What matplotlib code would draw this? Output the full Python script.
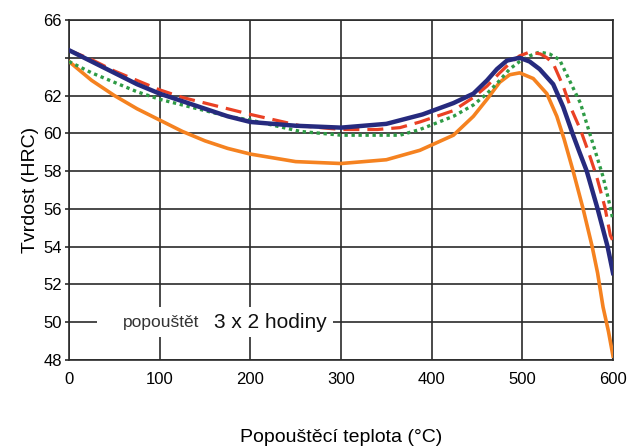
import numpy as np
import matplotlib.pyplot as plt
from matplotlib.patches import Rectangle

plt.rcParams['font.family'] = ['Liberation Sans', 'DejaVu Sans']

# temperature (°C) / hardness (HRC)
blue_x = [0, 25, 50, 75, 100, 125, 150, 175, 200, 250, 300, 350, 390, 424, 446, 461, 472, 483, 497, 508, 519, 534, 545, 556, 563, 571, 583, 594, 600]
blue_y = [64.4, 63.8, 63.2, 62.6, 62.1, 61.7, 61.3, 60.9, 60.6, 60.4, 60.3, 60.5, 61.0, 61.6, 62.1, 62.8, 63.4, 63.85, 64.0, 63.8, 63.4, 62.6, 61.4, 59.9, 59.0, 58.0, 56.0, 54.0, 52.6]

red_x = [0, 25, 50, 75, 100, 125, 150, 175, 200, 255, 300, 340, 365, 387, 424, 446, 461, 475, 486, 497, 508, 520, 527, 534, 545, 553, 564, 573, 582, 591, 597, 600]
red_y = [64.4, 63.9, 63.3, 62.8, 62.3, 61.9, 61.6, 61.3, 61.0, 60.4, 60.2, 60.2, 60.3, 60.6, 61.2, 61.9, 62.5, 63.2, 63.7, 64.1, 64.3, 64.2, 64.0, 63.7, 62.5, 61.4, 60.2, 59.0, 57.7, 56.1, 54.6, 54.3]

green_x = [0, 25, 50, 75, 100, 125, 150, 175, 200, 255, 300, 365, 387, 424, 446, 461, 475, 486, 497, 508, 519, 530, 541, 552, 564, 573, 582, 589, 595, 600]
green_y = [63.8, 63.2, 62.7, 62.2, 61.8, 61.5, 61.2, 60.9, 60.7, 60.1, 59.9, 59.9, 60.2, 60.9, 61.5, 62.1, 62.8, 63.4, 63.8, 64.1, 64.3, 64.2, 63.9, 62.8, 61.6, 60.2, 58.8, 57.7, 56.5, 55.4]

orange_x = [0, 25, 50, 75, 100, 125, 150, 175, 200, 250, 300, 350, 387, 424, 446, 461, 475, 486, 497, 512, 527, 538, 546, 556, 567, 577, 583, 589, 595, 600]
orange_y = [63.8, 62.8, 62.0, 61.3, 60.7, 60.1, 59.6, 59.2, 58.9, 58.5, 58.4, 58.6, 59.1, 59.9, 60.9, 61.8, 62.7, 63.1, 63.2, 62.9, 62.1, 60.9, 59.7, 58.0, 56.0, 54.0, 52.6, 50.8, 49.5, 48.2]

x_ticks = [0, 100, 200, 300, 400, 500, 600]
y_ticks = [48, 50, 52, 54, 56, 58, 60, 62, 64, 66]
y_labels = ['48', '50', '52', '54', '56', '58', '60', '62', '', '66']

fig = plt.figure(figsize=(6.29, 4.46), dpi=100)
ax = fig.add_axes([0.1097, 0.193, 0.8649, 0.7622])

grid_col = '#2a2a2a'
ax.set_xlim(0, 600)
ax.set_ylim(48, 66)
ax.set_xticks(x_ticks)
ax.set_yticks(y_ticks)
ax.set_yticklabels(y_labels)
ax.grid(True, color=grid_col, linewidth=1.2)
ax.set_axisbelow(True)
for s in ax.spines.values():
    s.set_color(grid_col)
    s.set_linewidth(1.2)
ax.tick_params(axis='y', length=3, width=1.2, color=grid_col, labelsize=12, pad=2)
ax.tick_params(axis='x', length=0, labelsize=12, pad=9)

# white box breaking the grid behind the annotation
ax.add_patch(Rectangle((31, 49.2), 260, 1.6, facecolor='white', edgecolor='none', zorder=1.5))
ax.text(60, 50, 'popouštět', fontsize=12.5, va='center', ha='left', zorder=3, color='#333333')
ax.text(160, 50, '3 x 2 hodiny', fontsize=15, va='center', ha='left', zorder=3, color='#111111')

ax.plot(orange_x, orange_y, color='#f58220', linewidth=2.6, zorder=3)
ax.plot(green_x, green_y, color='#2e9b45', linewidth=2.4, linestyle=(0, (1, 1.1)), zorder=3)
ax.plot(red_x, red_y, color='#ea4124', linewidth=2.3, linestyle=(0, (5, 2.5)), zorder=3)
ax.plot(blue_x, blue_y, color='#262a7e', linewidth=3.2, zorder=4)

ax.set_ylabel('Tvrdost (HRC)', fontsize=14, labelpad=3)
ax.set_xlabel('Popouštěcí teplota (°C)', fontsize=14, labelpad=30)

fig.savefig('out.png', dpi=100)
